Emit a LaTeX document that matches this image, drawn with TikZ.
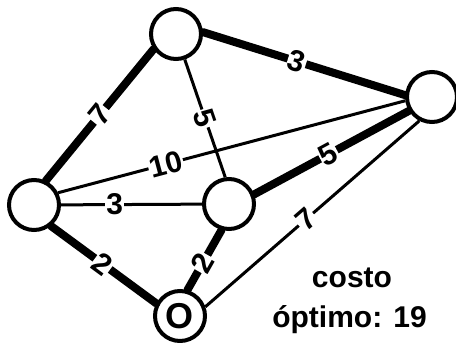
\documentclass[tikz,border=0pt]{standalone}
\usepackage{fontspec}
\setmainfont{Liberation Sans}
\begin{document}
\begin{tikzpicture}[
      x = 1pt, y = -1pt, % pixel units, y pointing down
      vertex/.style = {circle, draw, line width=4pt, minimum size=50pt, inner sep=0pt},
      heavy/.style = {line width=8pt, line cap=round}, % edges of the chosen tree
      light/.style = {line width=3pt},
      weight/.style = {fill=white, inner sep=1pt, sloped,
                       font=\fontsize{30}{36}\selectfont\bfseries},
      caption/.style = {anchor=base, inner sep=0pt,
                        font=\fontsize{30}{36}\selectfont\bfseries}
  ]

 \useasboundingbox (0,0) rectangle (456,343);

 \node[vertex] (top)   at (176,34)  {};
 \node[vertex] (right) at (432,97)  {};
 \node[vertex] (left)  at (34,205)  {};
 \node[vertex] (mid)   at (229,204) {};
 \node[vertex, font=\fontsize{36}{40}\selectfont\bfseries] (start) at (180,316) {O};

% edges leave the circles at hand-picked border angles
\foreach \from/\to/\w/\where/\kind in {
    left.64/top.214/7/0.50/heavy,
    top.-71/mid.98/5/0.50/light,
    left.27/right.188/10/0.31/light,
    top.4/right.176/3/0.465/heavy,
    mid.21/right.211/5/0.48/heavy,
    left/mid/3/0.38/light,
    left.-51/start.152/2/0.49/heavy,
    mid.254/start.74/2/0.55/heavy,
    start.20/right.242/7/0.47/light%
}{
    \draw[\kind] (\from) -- node[weight, pos=\where] {\w} (\to);
}

\node[caption] (cost)  at (352,287)   {costo};
\node[caption] (total) at (349.5,327) {óptimo: 19};

\end{tikzpicture}
\end{document}
